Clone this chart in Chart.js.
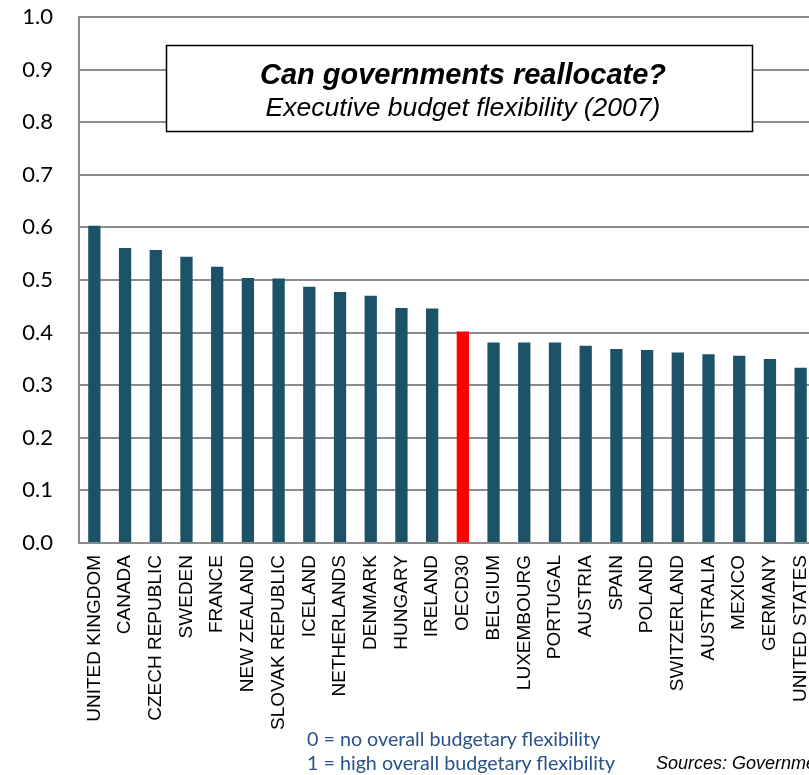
<!DOCTYPE html>
<html>
<head>
<meta charset="utf-8">
<script src="https://cdn.jsdelivr.net/npm/chart.js@4/dist/chart.umd.min.js"></script>
<style>
  html, body { margin: 0; padding: 0; background: #fff; overflow: hidden; width: 809px; height: 775px; }
  #wrap { position: relative; width: 809px; height: 775px; }
  #flex-chart { position: absolute; left: 0; top: 0; }
  .note { position: absolute; font-family: Lato, "Noto Sans", sans-serif; font-size: 19.7px; color: #2a5287; white-space: nowrap; }
  .src { position: absolute; font-family: "Liberation Sans", Arial, sans-serif; font-style: italic; font-size: 18px; color: #000; white-space: nowrap; }
</style>
</head>
<body>
<div id="wrap">
  <canvas id="flex-chart" width="840" height="775"></canvas>
  <div class="note" style="left:307px; top:727px;">0 = no overall budgetary flexibility</div>
  <div class="note" style="left:307px; top:751px;">1 = high overall budgetary flexibility</div>
  <div class="src" style="left:656px; top:753px;">Sources: Government at a Glance 2009, OECD</div>
</div>
<script>
var countries = ['UNITED KINGDOM','CANADA','CZECH REPUBLIC','SWEDEN','FRANCE','NEW ZEALAND',
  'SLOVAK REPUBLIC','ICELAND','NETHERLANDS','DENMARK','HUNGARY','IRELAND','OECD30',
  'BELGIUM','LUXEMBOURG','PORTUGAL','AUSTRIA','SPAIN','POLAND','SWITZERLAND',
  'AUSTRALIA','MEXICO','GERMANY','UNITED STATES'];
var flexibility = [0.603,0.561,0.557,0.544,0.525,0.504,0.503,0.487,0.477,0.470,0.447,0.446,0.402,
  0.381,0.381,0.381,0.375,0.369,0.367,0.362,0.359,0.356,0.350,0.333];
var yTicks = [0,0.1,0.2,0.3,0.4,0.5,0.6,0.7,0.8,0.9,1.0];

var titleLines = ['Can governments reallocate?','Executive budget flexibility (2007)'];

var barColours = countries.map(function(c){ return c === 'OECD30' ? '#ff0000' : '#1b5268'; });

// white framed caption sitting over the upper grid
var titleBox = {
  id: 'titleBox',
  afterDraw: function(chart){
    var ctx = chart.ctx;
    ctx.save();
    ctx.fillStyle = '#fff';
    ctx.fillRect(166, 45, 587, 87);
    ctx.strokeStyle = '#000';
    ctx.lineWidth = 1.5;
    ctx.strokeRect(166.5, 45.5, 586, 86);
    ctx.fillStyle = '#000';
    ctx.textAlign = 'center';
    ctx.textBaseline = 'alphabetic';
    ctx.font = 'italic bold 29px "Liberation Sans", Arial, sans-serif';
    ctx.fillText(titleLines[0], 463, 84);
    ctx.font = 'italic 26.5px "Liberation Sans", Arial, sans-serif';
    ctx.fillText(titleLines[1], 463, 116);
    ctx.restore();
  }
};

var ctx = document.getElementById('flex-chart').getContext('2d');
new Chart(ctx, {
  type: 'bar',
  data: {
    labels: countries,
    datasets: [{
      data: flexibility,
      backgroundColor: barColours,
      borderWidth: 0,
      categoryPercentage: 1.0,
      barPercentage: 0.4
    }]
  },
  options: {
    responsive: false,
    animation: false,
    layout: { autoPadding: false, padding: { top: 17, left: 0, right: 24, bottom: 0 } },
    plugins: { legend: { display: false }, tooltip: { enabled: false } },
    scales: {
      x: {
        afterFit: function(scale){ scale.height = 232; scale.paddingLeft = 0; scale.paddingRight = 0; },
        grid: { display: false, drawTicks: false },
        border: { display: true, color: '#8c8c8c', width: 2 },
        ticks: {
          minRotation: 90, maxRotation: 90, autoSkip: false, padding: 12,
          color: '#000',
          font: { family: '"Liberation Sans", Arial, sans-serif', size: 19 }
        }
      },
      y: {
        min: 0, max: 1,
        afterFit: function(scale){ scale.width = 79; scale.paddingTop = 0; scale.paddingBottom = 0; },
        afterBuildTicks: function(scale){ scale.ticks = yTicks.map(function(v){ return { value: v }; }); },
        grid: { color: '#8c8c8c', lineWidth: 2, drawTicks: false },
        border: { display: true, color: '#8c8c8c', width: 2 },
        ticks: {
          padding: 26, color: '#000',
          font: { family: 'Lato, "Noto Sans", sans-serif', size: 22 },
          callback: function(v){ return Number(v).toFixed(1); }
        }
      }
    }
  },
  plugins: [titleBox]
});
</script>
</body>
</html>
